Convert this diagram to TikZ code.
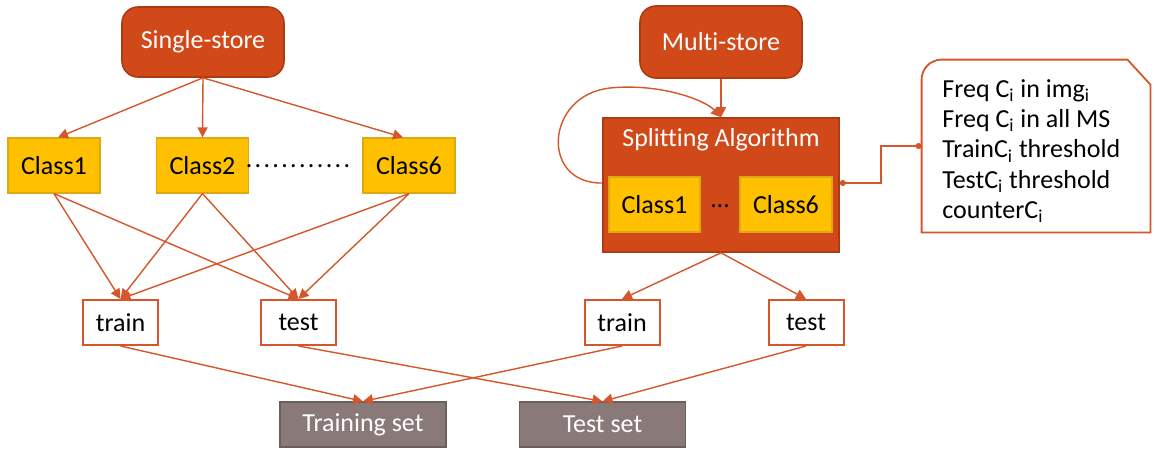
\documentclass[tikz,border=0pt]{standalone}
\usepackage{fontspec}
\setmainfont{Carlito}[Ligatures=NoCommon]
\usetikzlibrary{arrows.meta}

\definecolor{storered}{RGB}{209,73,24}
\definecolor{storeedge}{RGB}{172,58,18}
\definecolor{linkred}{RGB}{212,86,42}
\definecolor{classyellow}{RGB}{255,192,0}
\definecolor{classedge}{RGB}{222,168,20}
\definecolor{setgray}{RGB}{138,121,121}
\definecolor{setedge}{RGB}{105,95,95}

\tikzset{
  every node/.style={font=\fontsize{13}{15}\selectfont, inner sep=0pt},
  store/.style={draw=storeedge, line width=0.8pt, fill=storered, text=white, rounded corners=8pt, minimum width=81pt, minimum height=35pt},
  classbox/.style={draw=classedge, line width=0.6pt, fill=classyellow, minimum width=46pt, minimum height=27.5pt},
  splitbox/.style={draw=storeedge, line width=0.8pt, fill=storered, minimum width=118pt, minimum height=67pt},
  subset/.style={draw=linkred, line width=1pt, fill=white, minimum width=37.5pt, minimum height=22.5pt},
  finalset/.style={draw=setedge, line width=0.6pt, fill=setgray, text=white, minimum width=83pt, minimum height=22.5pt},
  link/.style={draw=linkred, line width=0.7pt, -{Triangle[length=5pt,width=5pt]}},
  notelink/.style={draw=linkred, line width=0.9pt, {Circle[length=3pt]}-{Circle[length=3pt]}},
}

\begin{document}
\begin{tikzpicture}[x=0.5pt, y=-0.5pt]

    \useasboundingbox (0,0) rectangle (1155,450);

    % the two sources
    \node[store] (single) at (203,42) {Single-store};
    \node[store, minimum height=36pt] (multi) at (721,42) {Multi-store};

    % single-store classes
    \node[classbox] (c1) at (54,165.5) {Class1};
    \node[classbox] (c2) at (202.5,165.5) {Class2};
    \node[classbox] (c6) at (409,165.5) {Class6};
    \node (cdots) at (298,166) {\addfontfeatures{LetterSpace=9}............};

    % multi-store splitting
    \node[splitbox] (split) at (721,185) {};
    \node[text=white] (splittitle) at (721,140) {Splitting Algorithm};
    \node[classbox, minimum width=45.5pt] (m1) at (654.5,204.5) {Class1};
    \node[classbox] (m6) at (786,204.5) {Class6};
    \node (mdots) at (720,206) {…};

    % the note
    \node[align=left, text width=94pt, inner xsep=10pt, minimum height=86pt] (info) at (1036,146) {};
    \node[align=left, anchor=west, font=\fontsize{13}{15.2}\selectfont] (infotext) at (942,151)
      {Freq C\textsubscript{i} in img\textsubscript{i}\\
       Freq C\textsubscript{i} in all MS\\
       TrainC\textsubscript{i} threshold\\
       TestC\textsubscript{i} threshold\\
       counterC\textsubscript{i}};
    \draw[draw=linkred, line width=0.9pt] (info.south west) [rounded corners=10pt] -- (info.north west)
      [sharp corners] -- ([xshift=-11.5pt]info.north east) -- ([yshift=-12.5pt]info.north east)
      -- (info.south east) -- cycle;

    % train and test
    \node[subset] (trainL) at (120.5,322.5) {train};
    \node[subset] (testL) at (298.5,322.5) {test};
    \node[subset] (trainR) at (622,322.5) {train};
    \node[subset] (testR) at (806,322.5) {test};

    \node[finalset] (trainset) at (363,424.5) {Training set};
    \node[finalset] (testset) at (602.5,424.5) {Test set};

    % links
    \draw[link] (single.south) -- ([xshift=2pt]c1.north);
    \draw[link] (single.south) -- (c2.north);
    \draw[link] (single.south) -- ([xshift=-3pt]c6.north);
    \foreach \c in {c1,c2,c6} {
      \draw[link] (\c.south) -- (trainL.north);
      \draw[link] (\c.south) -- (testL.north);
    }
    \draw[link] (multi) -- (split);
    \draw[link] ([yshift=1pt]split.west) .. controls (540,184) and (545,95) .. (610,88)
      .. controls (660,83) and (705,100) .. (split.north);
    \draw[notelink] ([yshift=1pt]split.east) -- ++(41,0) |- (info.west);
    \draw[link] (split.south) -- (trainR.north);
    \draw[link] (split.south) -- (testR.north);

    \draw[link] (trainL.south) -- (trainset.north);
    \draw[link] (trainR.south) -- (trainset.north);
    \draw[link] (testL.south) -- (testset.north);
    \draw[link] (testR.south) -- (testset.north);

\end{tikzpicture}
\end{document}
